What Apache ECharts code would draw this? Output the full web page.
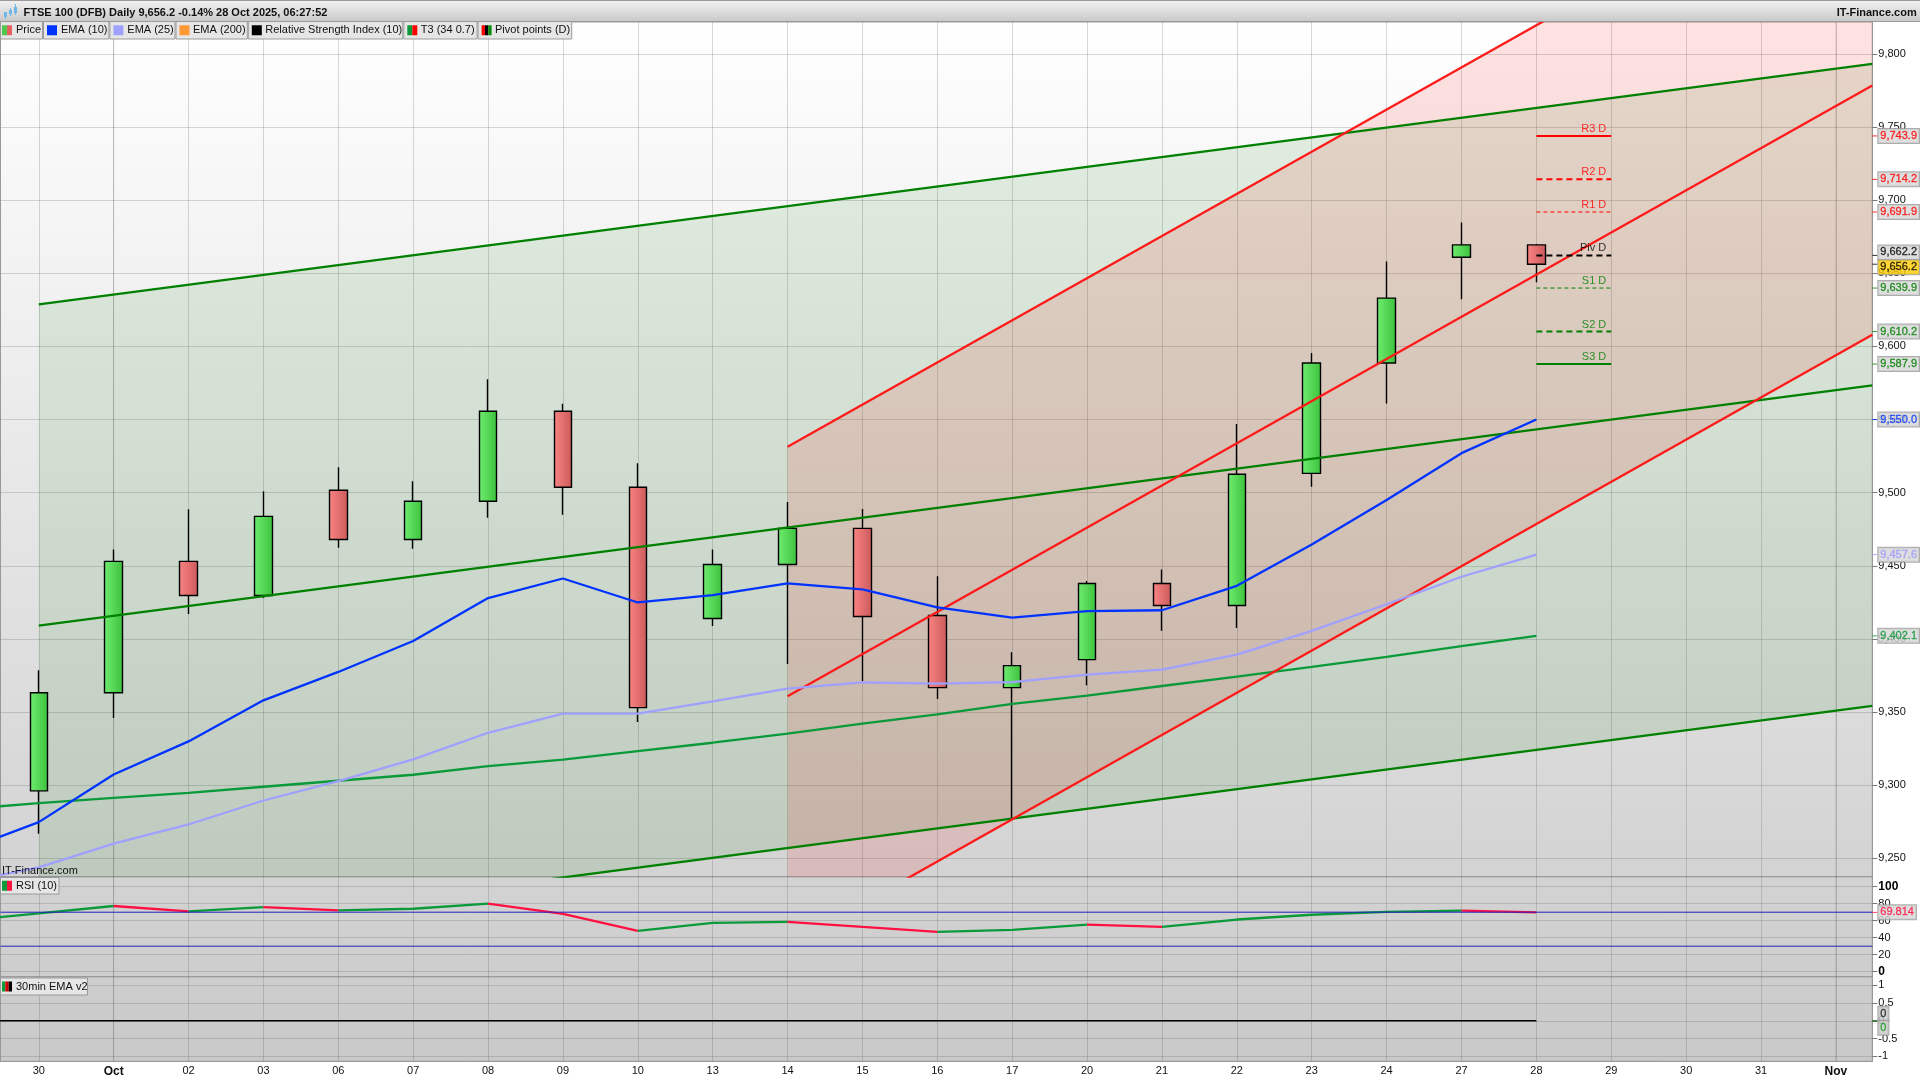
<!DOCTYPE html>
<html><head><meta charset="utf-8">
<style>html,body{margin:0;padding:0;background:#fff}#c{width:1920px;height:1080px}</style>
<script src="https://cdn.jsdelivr.net/npm/echarts@6/dist/echarts.min.js"></script>
</head><body><div id="c"></div>
<script>
// ---------- data ----------
const categories = ['30','Oct','02','03','06','07','08','09','10','13','14','15','16','17','20','21','22','23','24','27','28','29','30','31','Nov'];
const opens  = [9296.1,9363.2,9453.0,9429.7,9501.6,9468.0,9494.1,9555.7,9503.7,9413.9,9450.9,9475.6,9416.0,9366.7,9385.8,9437.9,9422.8,9513.2,9588.6,9660.9,9669.4];
const closes = [9363.2,9453.0,9429.7,9483.8,9468.0,9494.1,9555.7,9503.7,9353.0,9450.9,9475.6,9415.3,9366.7,9381.7,9437.9,9422.8,9512.6,9588.6,9633.0,9669.4,9656.2];
const lows   = [9266.7,9345.9,9417.1,9428.0,9462.3,9461.6,9482.9,9484.9,9343.2,9408.9,9382.9,9371.2,9358.9,9276.3,9368.3,9405.5,9407.5,9504.1,9561.0,9632.2,9643.8];
const highs  = [9378.5,9461.2,9488.6,9500.9,9517.4,9507.8,9577.6,9560.7,9520.1,9461.2,9493.6,9488.8,9442.9,9390.9,9439.5,9447.5,9547.0,9595.4,9658.0,9684.7,9670.0];
// the series start one session before the first visible date
const lineDays = [-1,0,1,2,3,4,5,6,7,8,9,10,11,12,13,14,15,16,17,18,19,20];
const ema10 = [9255.5,9274.7,9307.3,9329.9,9358.0,9377.4,9398.6,9427.9,9441.3,9424.9,9429.9,9437.9,9433.8,9421.5,9414.6,9419.0,9419.6,9436.3,9464.6,9495.0,9527.0,9550.0];
const ema25 = [9233.6,9243.8,9260.0,9273.1,9289.5,9302.7,9317.6,9335.8,9348.9,9348.9,9357.3,9366.0,9370.3,9369.4,9370.5,9375.6,9379.0,9389.3,9405.5,9423.7,9442.5,9457.6];
const t3    = [9283.6,9287.7,9291.3,9294.7,9298.9,9303.0,9307.1,9313.0,9317.4,9323.3,9329.0,9335.2,9342.0,9348.4,9355.5,9361.2,9367.8,9374.2,9380.8,9387.7,9395.0,9402.1];
const rsi   = [60.0,68.6,77.3,71.0,76.1,72.2,74.1,80.0,68.0,48.0,57.5,58.6,52.7,46.9,49.2,55.5,52.7,61.4,67.0,70.4,71.9,69.814];
const ema30min = [0,0,0,0,0,0,0,0,0,0,0,0,0,0,0,0,0,0,0,0,0,0];
const greenUpper = [[0,9628.8],[24.486,9793.2]];
const greenMiddle = [[0,9409.1],[24.486,9573.4]];
const greenLower = [[0,9189.9],[24.486,9354.2]];
const redUpper = [[10,9531.3],[24.486,9948.9]];
const redMiddle = [[10,9360.7],[24.486,9778.3]];
const redLower = [[10,9190.1],[24.486,9607.9]];
const pivotNames = ['R3 D','R2 D','R1 D','Piv D','S1 D','S2 D','S3 D'];
const pivotValues = [9743.9,9714.2,9691.9,9662.2,9639.9,9610.2,9587.9];
const priceTicks = [9250,9300,9350,9400,9450,9500,9550,9600,9650,9700,9750,9800];
const rsiTicks = [0,20,40,60,80,100];
const rsiLevels = [30,70];
const oscTicks = [-1,-0.5,0,0.5,1];
const monthStarts = [1,24];
const titleText = 'FTSE 100 (DFB) Daily 9,656.2 -0.14% 28 Oct 2025, 06:27:52';
const siteText = 'IT-Finance.com';

// ---------- layout / style ----------
const XMIN=-0.511, XMAX=24.486, FONT='"Liberation Sans", Arial, sans-serif';
const Y1=[9237.4,9821.8], Y2=[-5.9,111.8], Y3=[-1.14,1.242];
const G='#008000', GT='#0a9a3a', R='#ff1a1a', TAGR='#ff0000', TAGG='#008000', LW=2.3;
const GRIDC='rgba(90,90,90,0.24)';
const grad=(a,b)=>new echarts.graphic.LinearGradient(0,0,1,0,[{offset:0,color:a},{offset:1,color:b}]);
const fmt=v=>v.toLocaleString('en-US',{minimumFractionDigits:1,maximumFractionDigits:1});
const pts=(ys)=>lineDays.map((d,i)=>[d,ys[i]]);
const line=(name,data,color,width,extra)=>Object.assign({name,type:'line',data,symbol:'none',silent:true,
  lineStyle:{color,width,cap:'butt'},z:5,xAxisIndex:0,yAxisIndex:0},extra||{});
const poly=(top,bot,fill)=>({type:'custom',xAxisIndex:0,yAxisIndex:0,clip:true,silent:true,z:1,data:[[top[0][0],top[0][1]]],
  renderItem:(p,api)=>({type:'polygon',shape:{points:[top[0],top[1],bot[1],bot[0]].map(c=>api.coord(c))},style:{fill}})});
const tag=(v,text,color,bg,dy)=>({value:[XMAX,v],itemStyle:{color},
  label:{show:true,position:'right',distance:1,offset:[0,dy||0],formatter:text,color,backgroundColor:bg||'#d6d6d6',
    borderColor:'#999',borderWidth:1,padding:[2,2,1,2],fontSize:11,fontFamily:FONT,textBorderColor:color,textBorderWidth:0.3}});
const tagSeries=(idx,data)=>({type:'scatter',xAxisIndex:idx,yAxisIndex:idx,clip:false,silent:true,z:20,
  symbol:'rect',symbolSize:[5,1],symbolOffset:[2.5,0],data});
const xAxis=(i,show)=>({gridIndex:i,type:'value',min:XMIN,max:XMAX,
  axisLine:{show:show,onZero:false,lineStyle:{color:'#999'}},axisTick:{show:false,customValues:categories.map((c,k)=>k)},
  splitLine:{show:true,lineStyle:{color:GRIDC,width:1}},
  axisLabel:{show:show,customValues:categories.map((c,k)=>k),margin:4,fontSize:11,fontFamily:FONT,color:'#111',
    formatter:v=>{const c=categories[v];return /\d/.test(c)?c:'{b|'+c+'}';},rich:{b:{fontWeight:'bold',fontSize:12,fontFamily:FONT,color:'#111'}},
    showMinLabel:true,showMaxLabel:true,hideOverlap:false}});
const yAxis=(i,range,ticks,f)=>({gridIndex:i,type:'value',position:'right',min:range[0],max:range[1],scale:true,
  axisLine:{show:true,onZero:false,lineStyle:{color:'#999'}},
  axisTick:{show:true,length:5,customValues:ticks,lineStyle:{color:'#777'}},
  splitLine:{show:true,lineStyle:{color:GRIDC,width:1}},
  axisLabel:{customValues:ticks,margin:6,fontSize:11,fontFamily:FONT,color:'#111',formatter:f,hideOverlap:false,
    rich:{b:{fontWeight:'bold',fontSize:12,fontFamily:FONT,color:'#000'}}}});

// RSI is drawn green while rising, red while falling
const rsiUp=[],rsiDown=[];
rsi.slice(1).forEach((v,i)=>{const o=v>=rsi[i]?rsiUp:rsiDown;o.push([lineDays[i],rsi[i]],[lineDays[i+1],v],[lineDays[i+1],null]);});
const monthLine=(i,range)=>({type:'line',xAxisIndex:i,yAxisIndex:i,symbol:'none',silent:true,z:0,
  lineStyle:{color:'rgba(70,70,70,0.2)',width:1},connectNulls:false,
  data:monthStarts.flatMap(m=>[[m,range[0]],[m,range[1]],[m,null]])});

const series=[
  monthLine(0,Y1),monthLine(1,Y2),monthLine(2,Y3),
  poly(greenUpper,greenLower,'rgba(0,128,0,0.10)'),
  poly(redUpper,redLower,'rgba(255,0,0,0.115)'),
  {type:'candlestick',xAxisIndex:0,yAxisIndex:0,barWidth:18,z:3,silent:true,
    data:opens.map((o,i)=>[i,o,closes[i],lows[i],highs[i]]),
    itemStyle:{color:grad('#70ec70','#3cc23c'),color0:grad('#fb8484','#cb5a5a'),borderColor:'#000',borderColor0:'#000',borderWidth:1.4}},
  line('upper',greenUpper,G,LW),line('middle',greenMiddle,G,LW),line('lower',greenLower,G,LW),
  line('T3',pts(t3),GT,LW),
  line('red upper',redUpper,R,LW),line('red middle',redMiddle,R,LW),line('red lower',redLower,R,LW),
  line('EMA 25',pts(ema25),'#a0a0ff',LW),
  line('EMA 10',pts(ema10),'#0033ff',LW),
];
pivotNames.forEach((n,i)=>{
  const isR=n[0]==='R', col=n[0]==='P'?'#000':(isR?'#ff0000':'#008000');
  const d=[[20,pivotValues[i]],[21,pivotValues[i]]];
  const thin=n[1]==='1';
  const solid=n[1]==='3';
  series.push(line(n,d,col,thin?1:2,{z:6,lineStyle:{color:col,width:thin?1:2,type:solid?'solid':(thin?[4,3]:[6,4])}}));
});
series.push({type:'scatter',xAxisIndex:0,yAxisIndex:0,clip:false,silent:true,z:7,symbolSize:0,
  data:pivotNames.map((n,i)=>({value:[21,pivotValues[i]],label:{show:true,position:'left',distance:5,offset:[0,-7],formatter:n,
    fontSize:11,fontFamily:FONT,color:n[0]==='P'?'#000':(n[0]==='R'?'#ff0000':'#008000')}}))});
series.push(tagSeries(0,[
  tag(9743.9,fmt(9743.9),TAGR),tag(9714.2,fmt(9714.2),TAGR),tag(9691.9,fmt(9691.9),TAGR),
  tag(9662.2,fmt(9662.2),'#000','#d6d6d6',-3),tag(9656.2,fmt(9656.2),'#000','#ffcc00',3),
  tag(9639.9,fmt(9639.9),TAGG),tag(9610.2,fmt(9610.2),TAGG),tag(9587.9,fmt(9587.9),TAGG),
  tag(9550.0,fmt(9550.0),'#0033ff'),tag(9457.6,fmt(9457.6),'#9a9aff'),tag(9402.1,fmt(9402.1),GT)]));
series.push(
  {name:'RSI up',type:'line',xAxisIndex:1,yAxisIndex:1,data:rsiUp,symbol:'none',silent:true,z:5,lineStyle:{color:'#0a9a3a',width:LW}},
  {name:'RSI down',type:'line',xAxisIndex:1,yAxisIndex:1,data:rsiDown,symbol:'none',silent:true,z:5,lineStyle:{color:'#ff1040',width:LW}});
rsiLevels.forEach(l=>series.push({type:'line',xAxisIndex:1,yAxisIndex:1,symbol:'none',silent:true,z:6,
  lineStyle:{color:'#2222bb',width:1},data:[[XMIN,l],[XMAX,l]]}));
series.push(tagSeries(1,[tag(69.814,'69.814','#ff1040')]));
series.push({type:'line',xAxisIndex:2,yAxisIndex:2,data:pts(ema30min),symbol:'none',silent:true,z:5,lineStyle:{color:'#000',width:1.5}});
series.push(tagSeries(2,[tag(0,'0','#111','#c8c8c8',-7),tag(0,'0','#0a9a1a','#c8c8c8',7)]));

// ---------- chrome: title bar, background, legend chips ----------
const vgrad=(stops)=>new echarts.graphic.LinearGradient(0,0,0,1,stops);
const rect=(x,y,w,h,fill,stroke,z)=>({type:'rect',shape:{x,y,width:w,height:h},style:{fill,stroke:stroke||null,lineWidth:stroke?1:0},z:z===undefined?100:z,silent:true});
const text=(x,y,t,font,fill,align)=>({type:'text',z:101,silent:true,style:{x,y,text:t,font,fill:fill||'#111',textVerticalAlign:'middle',textAlign:align||'left'}});
const chip=(x0,x1,y0,y1,label,colors,textX)=>{
  const out=[rect(x0+0.5,y0+0.5,x1-x0-1,y1-y0-1,'#e6e6e6','#9a9a9a')];
  const sw=10/colors.length, sy=y0+(y1-y0-10)/2;
  colors.forEach((c,i)=>out.push(rect(x0+(x0?4:2)+i*sw,sy,sw,10,c)));
  out.push(text(textX,(y0+y1)/2,label,'11px '+FONT));
  return out;
};
const graphics=[
  rect(0,22,1872,1039,vgrad([{offset:0,color:'#ffffff'},{offset:0.822,color:'#d3d3d3'},{offset:1,color:'#c9c9c9'}]),null,-5),
  rect(0,0,1920,22,vgrad([{offset:0,color:'#f2f2f2'},{offset:1,color:'#c8c8c8'}]),null,50),
  rect(0,0,1920,1,'#999',null,51),
  rect(0,21,1920,1,'#9a9a9a',null,51),
  rect(5,15,1,4,'#6cb6e8'),rect(4,12,3,5,'#6cb6e8'),rect(9,10,3,4,'#6cb6e8'),rect(10,8,1,8,'#6cb6e8'),rect(14,7,3,6,'#6cb6e8'),rect(15,4,1,11,'#6cb6e8'),
  text(23.5,12.5,titleText,'bold 11px '+FONT),
  text(1916.7,12.5,siteText,'bold 11px '+FONT,'#111','right'),
  ...chip(0,43,21,39.5,'Price',['#50c850','#e86060'],16),
  ...chip(43,109.4,21,39.5,'EMA (10)',['#0033ff'],61),
  ...chip(109.4,175.5,21,39.5,'EMA (25)',['#a0a0ff'],127.3),
  ...chip(175.5,247.8,21,39.5,'EMA (200)',['#ff9933'],193),
  ...chip(247.8,403.3,21,39.5,'Relative Strength Index (10)',['#000000'],265.3),
  ...chip(403.3,477.6,21,39.5,'T3 (34 0.7)',['#0a9a3a','#ff0000'],420.8),
  ...chip(477.6,572.2,21,39.5,'Pivot points (D)',['#ff0000','#000000','#0a8a0a'],495),
  ...chip(0,59.5,877,894.5,'RSI (10)',['#0a9a3a','#ff1040'],16),
  ...chip(0,88,977.5,995.5,'30min EMA v2',['#0a9a3a','#cc0000','#000000'],16),
  text(2,870.5,siteText,'11px '+FONT,'#111'),
];

const chart=echarts.init(document.getElementById('c'),null,{renderer:'canvas',width:1920,height:1080});
chart.setOption({
  animation:false,backgroundColor:'#fff',textStyle:{fontFamily:FONT},
  grid:[
    {left:0.5,width:1871.8,top:22,height:854.7,show:true,borderColor:'#999',borderWidth:1,backgroundColor:'transparent'},
    {left:0.5,width:1871.8,top:876.7,height:100,show:true,borderColor:'#999',borderWidth:1,backgroundColor:'transparent'},
    {left:0.5,width:1871.8,top:976.7,height:84.6,show:true,borderColor:'#999',borderWidth:1,backgroundColor:'transparent'}
  ],
  xAxis:[xAxis(0,false),xAxis(1,false),xAxis(2,true)],
  yAxis:[
    yAxis(0,Y1,priceTicks,v=>v.toLocaleString('en-US')),
    yAxis(1,Y2,rsiTicks,v=>(v===0||v===100)?'{b|'+v+'}':String(v)),
    yAxis(2,Y3,oscTicks,v=>String(v))
  ],
  graphic:{elements:graphics},
  series
});
</script></body></html>
